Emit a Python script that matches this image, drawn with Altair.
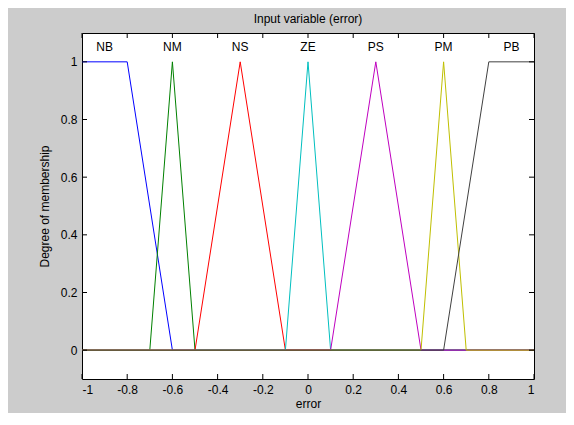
import altair as alt
import pandas as pd

# membership functions (error) - breakpoints
mf_names = ["NB", "NM", "NS", "ZE", "PS", "PM", "PB"]
mf_x = [
    [-1.0, -0.8, -0.6, 1.0],
    [-1.0, -0.7, -0.6, -0.5, 1.0],
    [-1.0, -0.5, -0.3, -0.1, 1.0],
    [-1.0, -0.1, 0.0, 0.1, 1.0],
    [-1.0, 0.1, 0.3, 0.5, 1.0],
    [-1.0, 0.5, 0.6, 0.7, 1.0],
    [-1.0, 0.6, 0.8, 1.0],
]
mf_y = [
    [1, 1, 0, 0],
    [0, 0, 1, 0, 0],
    [0, 0, 1, 0, 0],
    [0, 0, 1, 0, 0],
    [0, 0, 1, 0, 0],
    [0, 0, 1, 0, 0],
    [0, 0, 1, 1],
]
mf_colors = ["#0000ff", "#008000", "#ff0000", "#00bfbf", "#bf00bf", "#bfbf00", "#404040"]
label_x = [-0.9, -0.6, -0.3, 0.0, 0.3, 0.6, 0.9]
label_y = [1.05] * 7

x_ticks = [-1, -0.8, -0.6, -0.4, -0.2, 0, 0.2, 0.4, 0.6, 0.8, 1]
y_ticks = [0, 0.2, 0.4, 0.6, 0.8, 1]

W, H = 452, 346
FONT = "Liberation Sans"

xscale = alt.Scale(domain=[-1, 1], nice=False, zero=False)
yscale = alt.Scale(domain=[-0.1, 1.1], nice=False, zero=False)

rows = []
for name, xs, ys in zip(mf_names, mf_x, mf_y):
    for i, (a, b) in enumerate(zip(xs, ys)):
        rows.append({"mf": name, "x": a, "y": b, "i": i})
df = pd.DataFrame(rows)

xaxis = alt.Axis(values=x_ticks, ticks=False, domain=False, grid=False,
                 labelExpr="'' + datum.value",
                 labelFont=FONT, labelFontSize=12, labelColor="black", labelPadding=5,
                 title="error", titleFont=FONT, titleFontSize=12, titleFontWeight="normal",
                 titleColor="black", titlePadding=3)
yaxis = alt.Axis(values=y_ticks, ticks=False, domain=False, grid=False,
                 labelExpr="'' + datum.value",
                 labelFont=FONT, labelFontSize=12, labelColor="black", labelPadding=5,
                 title="Degree of membership", titleFont=FONT, titleFontSize=12,
                 titleFontWeight="normal", titleColor="black", titlePadding=9)


def X(field):
    return alt.X(field, scale=xscale, axis=xaxis)


def Y(field):
    return alt.Y(field, scale=yscale, axis=yaxis)


layers = []
for name, col in zip(mf_names, mf_colors):
    layers.append(
        alt.Chart(df[df.mf == name]).mark_line(color=col, strokeWidth=1).encode(
            x=X("x:Q"), y=Y("y:Q"), order="i:Q")
    )

lab_df = pd.DataFrame({"mf": mf_names, "x": label_x, "y": label_y})
labels = alt.Chart(lab_df).mark_text(font=FONT, fontSize=12, color="black", baseline="middle").encode(
    x=X("x:Q"), y=Y("y:Q"), text="mf:N")

xt_df = pd.DataFrame({"x": x_ticks})
yt_df = pd.DataFrame({"y": y_ticks})
tick_bottom = alt.Chart(xt_df).mark_rule(color="black", strokeWidth=1).encode(
    x=X("x:Q"), y=alt.value(H), y2=alt.value(H - 5))
tick_top = alt.Chart(xt_df).mark_rule(color="black", strokeWidth=1).encode(
    x=X("x:Q"), y=alt.value(0), y2=alt.value(5))
tick_left = alt.Chart(yt_df).mark_rule(color="black", strokeWidth=1).encode(
    y=Y("y:Q"), x=alt.value(0), x2=alt.value(5))
tick_right = alt.Chart(yt_df).mark_rule(color="black", strokeWidth=1).encode(
    y=Y("y:Q"), x=alt.value(W), x2=alt.value(W - 5))

chart = alt.layer(*layers, labels, tick_bottom, tick_top, tick_left, tick_right).properties(
    width=W, height=H,
    background="#cccccc",
    autosize=alt.AutoSizeParams(type="none"),
    padding={"left": 74, "top": 25, "right": 32, "bottom": 34},
    title=alt.TitleParams("Input variable (error)", font=FONT, fontSize=12,
                          fontWeight="normal", color="black", offset=7),
).configure_view(stroke="black", strokeWidth=1, fill="white")

chart.save("out.html", embed_options={"renderer": "svg", "actions": False})
